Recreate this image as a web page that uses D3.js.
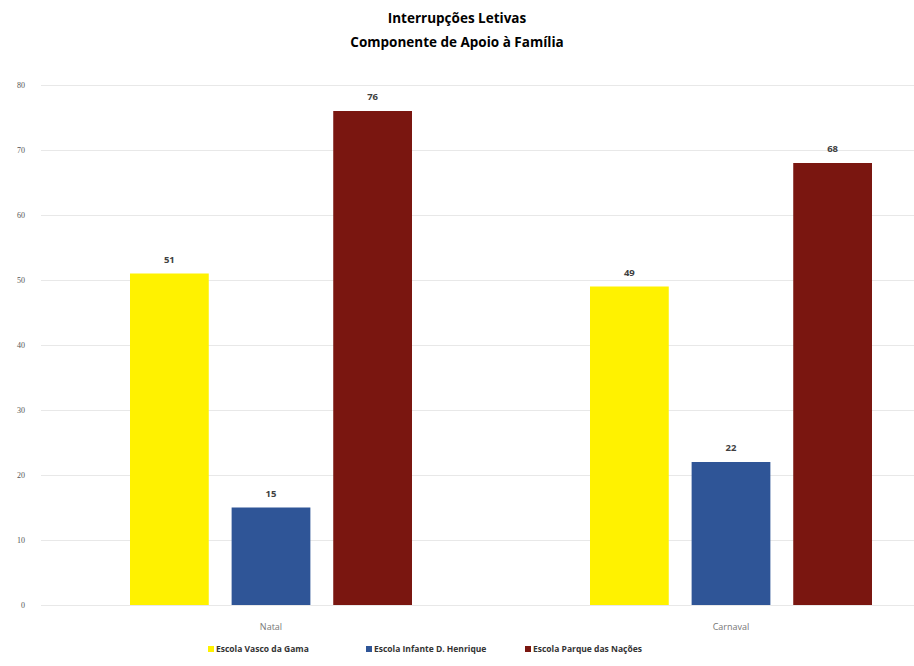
<!DOCTYPE html>
<html>
<head>
<meta charset="utf-8">
<script src="https://cdn.jsdelivr.net/npm/d3@7"></script>
<style>
  body { margin: 0; background: #fff; }
  svg { display: block; font-family: "Open Sans", "Liberation Sans", sans-serif; }
</style>
</head>
<body>
<div id="app"></div>
<script>
// Data
let periods = ["Natal", "Carnaval"]
let schools = ["Escola Vasco da Gama", "Escola Infante D. Henrique", "Escola Parque das Nações"]
let vascoDaGama = [51, 49]
let infanteHenrique = [15, 22]
let parqueNacoes = [76, 68]
let yTicks = [0, 10, 20, 30, 40, 50, 60, 70, 80]
let colors = ["#FFF200", "#2F5597", "#7A1610"]

let width = 914
let height = 666

let svg = d3.select("#app").append("svg")
    .attr("width", width)
    .attr("height", height)

let series = [vascoDaGama, infanteHenrique, parqueNacoes]
let rows = periods.map((p, i) => ({ period: p, values: series.map((s, j) => ({ school: schools[j], value: s[i] })) }))

// scales
let x0 = d3.scaleBand().domain(periods).range([41, 961])
let x1 = d3.scaleBand().domain(schools).range([89, 371]).paddingInner(0.225)
let y = d3.scaleLinear().domain([0, 80]).range([605, 85])
let color = d3.scaleOrdinal().domain(schools).range(colors)

// title
let title = svg.append("g")
    .attr("font-weight", "bold")
    .attr("font-size", 13.5)
    .attr("fill", "#000")
    .attr("text-anchor", "middle")
title.append("text").attr("x", 457).attr("y", 23).text("Interrupções Letivas")
title.append("text").attr("x", 457).attr("y", 47).text("Componente de Apoio à Família")

// gridlines + y axis
let yAxis = svg.append("g")
    .attr("transform", "translate(41,0)")
    .call(d3.axisLeft(y).tickValues(yTicks).tickSize(-(914 - 41)).tickPadding(16))
yAxis.select(".domain").remove()
yAxis.selectAll(".tick line").attr("stroke", "#e8e8e8").attr("stroke-width", 1)
yAxis.selectAll(".tick text")
    .attr("fill", "#555")
    .attr("font-size", 8)
    .attr("font-family", "'Liberation Serif', serif")

// bars
let groups = svg.append("g").selectAll("g")
    .data(rows)
    .enter().append("g")
    .attr("transform", d => `translate(${x0(d.period)},0)`)

groups.selectAll("rect")
    .data(d => d.values)
    .enter().append("rect")
    .attr("x", d => x1(d.school))
    .attr("y", d => y(d.value))
    .attr("width", x1.bandwidth())
    .attr("height", d => y(0) - y(d.value))
    .attr("fill", d => color(d.school))

groups.selectAll("text.val")
    .data(d => d.values)
    .enter().append("text")
    .attr("class", "val")
    .attr("x", d => x1(d.school) + x1.bandwidth() / 2)
    .attr("y", d => y(d.value) - 11)
    .attr("text-anchor", "middle")
    .attr("font-size", 9.5)
    .attr("font-weight", "bold")
    .attr("fill", "#404040")
    .text(d => d.value)

// category labels
svg.append("g").selectAll("text")
    .data(periods)
    .enter().append("text")
    .attr("x", d => x0(d) + x0.bandwidth() / 2)
    .attr("y", 630)
    .attr("text-anchor", "middle")
    .attr("font-size", 9)
    .attr("fill", "#777")
    .text(d => d)

// legend
let legendX = [208, 366, 525]
let legend = svg.append("g").selectAll("g")
    .data(schools)
    .enter().append("g")
    .attr("transform", (d, i) => `translate(${legendX[i]},652)`)

legend.append("rect")
    .attr("x", 0).attr("y", -6)
    .attr("width", 6).attr("height", 6)
    .attr("fill", d => color(d))

legend.append("text")
    .attr("x", 8).attr("y", 0)
    .attr("font-size", 8.5)
    .attr("font-weight", "bold")
    .attr("fill", "#333")
    .text(d => d)
</script>
</body>
</html>
